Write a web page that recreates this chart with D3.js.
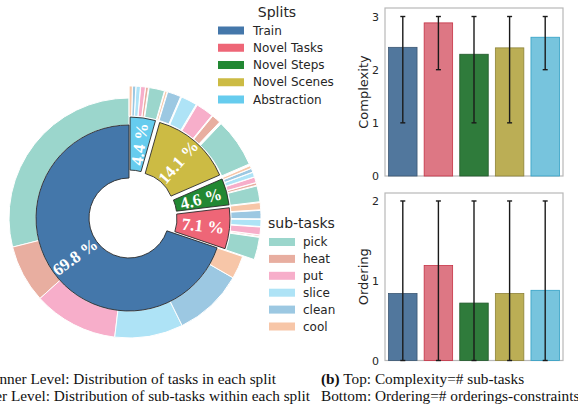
<!DOCTYPE html>
<html>
<head>
<meta charset="UTF-8" />
<title>Splits and sub-tasks</title>
<script src="https://d3js.org/d3.v7.min.js"></script>
<style>
  body { margin: 0; background: #fff; }
  svg { display: block; }
  .sans { font-family: "DejaVu Sans", sans-serif; fill: #262626; }
  .serif { font-family: "Liberation Serif", "Times New Roman", serif; fill: #111; }
</style>
</head>
<body>
<svg id="fig" width="578" height="404"></svg>
<script>
// ---- data ----
const splits = ['Train', 'Novel Tasks', 'Novel Steps', 'Novel Scenes', 'Abstraction'];
const splitShare = [69.8, 7.1, 4.6, 14.1, 4.4];
const splitColors = ['#4477AA', '#EE6677', '#228833', '#CCBB44', '#66CCEE'];

const subTasks = ['pick', 'heat', 'put', 'slice', 'clean', 'cool'];
const subColors = ['#9BD6CC', '#E8AEA0', '#F7AECA', '#AEE3F6', '#9CC8E2', '#F7C6A8'];
// share of all tasks, per split, in subTasks order
const trainSubs = [28.9, 7.8, 11.4, 9.2, 9.4, 3.1];
const novelTasksSubs = [2.95, 0.17, 1.02, 0.92, 1.10, 0.94];
const novelStepsSubs = [2.08, 0.33, 0.72, 0.61, 0.50, 0.36];
const novelScenesSubs = [6.41, 1.19, 2.33, 2.11, 1.78, 0.28];
const abstractionSubs = [2.03, 0.36, 0.61, 0.56, 0.42, 0.42];

const complexity = [2.42, 2.88, 2.29, 2.41, 2.61];
const complexityLo = [1, 2, 1, 1, 2];
const complexityHi = [3, 3, 3, 3, 3];
const ordering = [0.84, 1.19, 0.72, 0.84, 0.88];
const orderingLo = [0, 0, 0, 0, 0];
const orderingHi = [2, 2, 2, 2, 2];

const svg = d3.select('#fig');

// ---- nested donut ----
const cx = 129, cy = 218;
const rHole = 40, rMid = 93, rOuter = 120;
const explode = 8;

const pie = d3.pie().sort(null).value(d => d.v).startAngle(0).endAngle(-2 * Math.PI);
const innerArcs = pie(splits.map((s, i) => ({ v: splitShare[i], i })));

const allSubs = [trainSubs, novelTasksSubs, novelStepsSubs, novelScenesSubs, abstractionSubs];
const outerData = [];
allSubs.forEach((arr, si) => arr.forEach((v, k) => outerData.push({ v, si, k })));
const outerArcs = pie(outerData);

function shift(a, e) {
  const m = (a.startAngle + a.endAngle) / 2;
  return [e * Math.sin(m), -e * Math.cos(m)];
}

const donut = svg.append('g').attr('transform', `translate(${cx},${cy})`);

const outerArc = d3.arc().innerRadius(rMid).outerRadius(rOuter);
const outerArcEx = d3.arc().innerRadius(rMid).outerRadius(rOuter + 3);
donut.append('g').selectAll('path')
  .data(outerArcs)
  .join('path')
  .attr('d', d => d.data.si === 0 ? outerArc(d) : outerArcEx(d))
  .attr('transform', d => {
    const [dx, dy] = d.data.si === 0 ? [0, 0] : shift(d, explode + 1);
    return `translate(${dx},${dy})`;
  })
  .attr('fill', d => subColors[d.data.k])
  .attr('stroke', '#fff')
  .attr('stroke-width', 1);

const innerArc = d3.arc().innerRadius(rHole).outerRadius(rMid);
const inner = donut.append('g').selectAll('g')
  .data(innerArcs)
  .join('g')
  .attr('transform', d => {
    const [dx, dy] = d.data.i === 0 ? [0, 0] : shift(d, explode);
    return `translate(${dx},${dy})`;
  });

inner.append('path')
  .attr('d', innerArc)
  .attr('fill', d => splitColors[d.data.i])
  .attr('stroke', '#2b2b2b')
  .attr('stroke-width', 0.9);

inner.append('text')
  .attr('class', 'serif')
  .attr('transform', d => {
    const [x, y] = innerArc.centroid(d);
    const m = (d.startAngle + d.endAngle) / 2;
    let theta = 90 - m * 180 / Math.PI; // matplotlib style angle
    theta = ((theta % 360) + 360) % 360;
    if (theta > 90 && theta < 270) theta -= 180;
    if (theta >= 270) theta -= 360;
    return `translate(${x},${y}) rotate(${-theta})`;
  })
  .attr('text-anchor', 'middle')
  .attr('dy', '0.35em')
  .style('fill', '#fff')
  .style('font-weight', 'bold')
  .style('font-size', '17px')
  .text(d => d3.format('.1f')(d.data.v) + ' %');

// ---- legends ----
function legend(x, y, title, titleX, titleAnchor, names, colors, textX, gap, step) {
  const g = svg.append('g');
  g.append('text').attr('class', 'sans')
    .attr('x', titleX).attr('y', y)
    .attr('text-anchor', titleAnchor)
    .style('font-size', '14px')
    .text(title);
  names.forEach((n, i) => {
    const yy = y + gap + i * step;
    g.append('rect').attr('x', x).attr('y', yy - 4).attr('width', 26).attr('height', 8)
      .attr('fill', colors[i]);
    g.append('text').attr('class', 'sans')
      .attr('x', textX).attr('y', yy).attr('dy', '0.35em')
      .style('font-size', '12px')
      .text(n);
  });
}
legend(218, 17, 'Splits', 277, 'middle', splits, splitColors, 253, 13.5, 17.25);
legend(269, 228, 'sub-tasks', 268, 'start', subTasks, subColors, 303, 14, 16.9);

// ---- bar charts ----
const x = d3.scaleBand().domain(splits).range([385, 563]).paddingInner(0.2).paddingOuter(0.1);

function barPanel(top, bottom, maxY, ticks, values, lo, hi, label) {
  const y = d3.scaleLinear().domain([0, maxY]).range([bottom, top]);
  const g = svg.append('g');
  g.append('rect').attr('x', 385).attr('y', top).attr('width', 178).attr('height', bottom - top)
    .attr('fill', 'none').attr('stroke', '#b8b8b8').attr('stroke-width', 1.2);
  g.append('g').selectAll('rect')
    .data(values)
    .join('rect')
    .attr('x', (d, i) => x(splits[i]))
    .attr('width', x.bandwidth())
    .attr('y', d => y(d))
    .attr('height', d => y(0) - y(d))
    .attr('fill', (d, i) => d3.hsl(splitColors[i]).copy({ s: d3.hsl(splitColors[i]).s * 0.75 }))
    .attr('stroke', (d, i) => d3.hsl(splitColors[i]).copy({ s: d3.hsl(splitColors[i]).s * 0.75 }).darker(0.9))
    .attr('stroke-width', 0.8);
  const eb = g.append('g').attr('stroke', '#1a1a1a').attr('stroke-width', 1.4);
  values.forEach((v, i) => {
    const cxb = x(splits[i]) + x.bandwidth() / 2;
    eb.append('line').attr('x1', cxb).attr('x2', cxb).attr('y1', y(lo[i])).attr('y2', y(hi[i]));
    eb.append('line').attr('x1', cxb - 2.5).attr('x2', cxb + 2.5).attr('y1', y(lo[i])).attr('y2', y(lo[i]));
    eb.append('line').attr('x1', cxb - 2.5).attr('x2', cxb + 2.5).attr('y1', y(hi[i])).attr('y2', y(hi[i]));
  });
  const ax = g.append('g').attr('transform', 'translate(385,0)')
    .call(d3.axisLeft(y).tickValues(ticks).tickFormat(d3.format('d')).tickSize(0).tickPadding(6));
  ax.select('.domain').remove();
  ax.selectAll('text').attr('class', 'sans').style('font-size', '11px').attr('font-family', null);
  g.append('text').attr('class', 'sans')
    .attr('transform', `translate(368,${(top + bottom) / 2}) rotate(-90)`)
    .attr('text-anchor', 'middle')
    .style('font-size', '13px')
    .text(label);
}
barPanel(8, 176, 3.16, [0, 1, 2, 3], complexity, complexityLo, complexityHi, 'Complexity');
barPanel(193, 360.5, 2.1, [0, 1, 2], ordering, orderingLo, orderingHi, 'Ordering');

// ---- captions (left side runs past the window edge, as in the original) ----
const cap = svg.append('g').attr('class', 'serif').style('font-size', '15.3px');
cap.append('text').attr('x', 276).attr('y', 384).attr('text-anchor', 'end')
  .text('(a) Inner Level: Distribution of tasks in each split');
cap.append('text').attr('x', 310).attr('y', 401).attr('text-anchor', 'end')
  .text('Outer Level: Distribution of sub-tasks within each split');
const b = cap.append('text').attr('x', 321).attr('y', 384);
b.append('tspan').style('font-weight', 'bold').text('(b)');
b.append('tspan').text(' Top: Complexity=# sub-tasks');
cap.append('text').attr('x', 321).attr('y', 401).text('Bottom: Ordering=# orderings-constraints');
</script>
</body>
</html>
